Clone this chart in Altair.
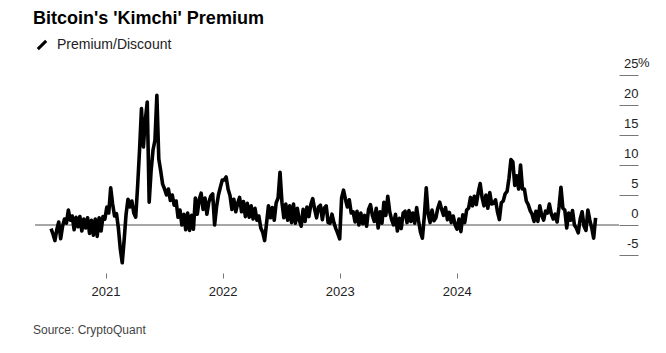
import altair as alt
import pandas as pd

title_text = "Bitcoin's 'Kimchi' Premium"
series_name = "Premium/Discount"
source_text = "Source: CryptoQuant"

# readings every 6 days, starting 2020-07-15 (percent premium/discount)
start_date = "2020-07-15"
step = "6D"
values_2020 = [-0.6, -1.5, -2.6, -0.8, 0.5, -2.3, -0.2, 1.0, 0.3, 2.5,
               0.8, 1.5, -0.8, 1.3, -0.3, 1.4, -1.0, 1.0, -0.5, 1.2,
               -1.4, 0.8, -1.7, 1.0, -1.9, 1.2, -1.0, 1.4, 1.0]
values_2021 = [3.0,
               2.0, 6.2, 3.5, 1.5, 1.9, -0.5, -4.0, -6.3, -2.5, 1.8,
               4.3, 3.0, 4.0, 2.0, 1.3, 6.5, 12.5, 19.4, 13.0, 17.5,
               20.5, 3.8, 9.0, 12.5, 14.1, 21.6, 11.0, 9.0, 6.8, 6.0,
               5.0, 6.0, 4.1, 5.0, 3.3, 4.0, 1.3, 2.5, 0.0, 1.8,
               -0.8, 2.0, -0.9, 1.6, -0.7, 4.5, 1.8, 4.2, 5.3, 2.6,
               4.5, 1.8, 3.8, 4.8, 5.2, 0.0, 3.0, 5.0, 6.3, 7.5]
values_2022 = [7.5, 8.0, 6.0, 4.9, 2.6, 4.3, 2.2, 3.6, 4.6, 2.2,
               3.9, 1.4, 3.6, 1.3, 3.2, 1.0, 2.8, 0.8, 1.5, -0.5,
               -1.2, -2.6, 0.3, 3.2, 1.2, 2.9, 0.8, 3.7, 4.5, 8.8,
               3.8, 1.2, 3.5, 0.8, 3.2, 0.4, 3.5, 0.3, 2.8, 0.8,
               -0.2, 2.6, 0.6, 3.0, 1.4, 3.4, 4.4, 2.6, 1.2, 3.0,
               3.3, 0.9, 2.8, 3.2, 0.4, 0.3, 1.8, 0.4, -0.6, -1.4,
               -2.3]
values_2023 = [4.5, 5.8, 4.3, 3.0, 4.2, 2.0, 2.2, 0.5, 2.3,
               0.0, 2.0, 0.2, 1.6, -0.2, 2.6, 3.4, 1.6, 0.6, 2.8,
               -0.5, 2.2, 0.3, 3.8, 1.6, 4.8, 2.2, 0.9, 0.0, 1.8,
               -1.0, 1.1, -0.6, 2.0, 2.3, 0.4, 2.4, 0.6, 2.0, 0.3,
               2.9, 0.7, -1.2, -2.2, 1.5, 6.2, 1.8, 0.4, 2.5, 0.7,
               1.2, 2.8, 3.8, 2.6, 1.6, 2.9, 0.9, 2.1, 0.4, 1.5,
               0.0]
values_2024 = [-0.7, 1.0, -1.1, 1.7, 0.4, 2.5, 2.8, 4.6, 3.2,
               4.8, 3.4, 5.4, 6.9, 4.6, 3.2, 5.0, 2.8, 5.4, 3.5,
               3.6, 4.2, 2.2, 0.9, 3.7, 4.0, 5.2, 5.6, 7.8, 10.9,
               10.5, 6.6, 8.2, 6.0, 10.0, 6.0, 6.0, 4.0, 3.4, 2.4,
               1.8, 0.6, 2.3, 0.6, 3.2, 1.6, 0.8, 2.3, 2.0, 3.5,
               1.8, 1.0, 1.8, 0.5, 3.0, 6.3, 2.8, 2.5, -0.5, 2.0,
               0.8, 2.4]
values_2025 = [0.0, -0.5, -1.3, 1.0, 2.2, -0.2, -0.9, 2.5,
               0.8, -0.5, -2.2, 1.2]

y_ticks = [-5, 0, 5, 10, 15, 20, 25]
x_tick_years = [2021, 2022, 2023, 2024]

values = values_2020 + values_2021 + values_2022 + values_2023 + values_2024 + values_2025
dates = pd.date_range(start_date, periods=len(values), freq=step)
df = pd.DataFrame({"date": dates, "value": values, "series": series_name})

W, H = 584, 198
FONT = "Liberation Sans"

x_scale = alt.Scale(domain=[alt.DateTime(year=2020, month=5, date=26),
                            alt.DateTime(year=2025, month=5, date=21)], nice=False)
y_scale = alt.Scale(domain=[-8, 25], nice=False, zero=False)

x_axis = alt.Axis(values=[alt.DateTime(year=y, month=1, date=1) for y in x_tick_years],
                  format="%Y", domain=False, grid=False, tickSize=5, tickColor="#777",
                  labelFontSize=13, labelFont=FONT, labelColor="#222", labelPadding=7,
                  title=None)
y_axis = alt.Axis(orient="right", values=y_ticks, domain=False, grid=False,
                  tickSize=19, tickColor="#777", labelAlign="right", labelPadding=0,
                  labelBaseline="alphabetic", labelOffset=-8, labelFontSize=13,
                  labelFont=FONT, labelColor="#222", labelExpr="'' + datum.value",
                  title=None)

zero = alt.Chart(pd.DataFrame({"value": [0]})).mark_rule(
    color="#8a8a8a", strokeWidth=1.3
).encode(
    y=alt.Y("value:Q", scale=y_scale, axis=y_axis)
)

line = alt.Chart(df).mark_line(strokeWidth=3.6, strokeJoin="round").encode(
    x=alt.X("date:T", scale=x_scale, axis=x_axis),
    y=alt.Y("value:Q", scale=y_scale, axis=y_axis),
    color=alt.Color("series:N", scale=alt.Scale(range=["#000000"]),
                    legend=alt.Legend(title=None, orient="none", legendX=0, legendY=-37,
                                      symbolType="M-1,1L1,-1", symbolStrokeWidth=3,
                                      symbolSize=70, labelFontSize=14, labelFont=FONT,
                                      labelColor="#222", labelOffset=8, padding=0))
)

pct = alt.Chart(pd.DataFrame({"value": [25], "t": ["%"]})).mark_text(
    align="left", baseline="alphabetic", dy=-8, fontSize=13, font=FONT, color="#222"
).encode(
    y=alt.Y("value:Q", scale=y_scale, axis=y_axis),
    x=alt.value(W + 19),
    text="t:N",
)

source = alt.Chart(pd.DataFrame({"t": [source_text]})).mark_text(
    align="left", baseline="alphabetic", fontSize=12, font=FONT, color="#444"
).encode(
    x=alt.value(-2),
    y=alt.value(H + 61),
    text="t:N",
)

chart = alt.layer(zero, line, pct, source).properties(
    width=W, height=H,
    title=alt.TitleParams(title_text, anchor="start", font=FONT, fontSize=18,
                          fontWeight="bold", color="#000", offset=10),
    padding={"left": 35, "top": 75, "right": 47, "bottom": 80},
    autosize=alt.AutoSizeParams(type="none"),
).configure_view(stroke=None)

chart.save("out.html", embed_options={"renderer": "svg", "actions": False})
